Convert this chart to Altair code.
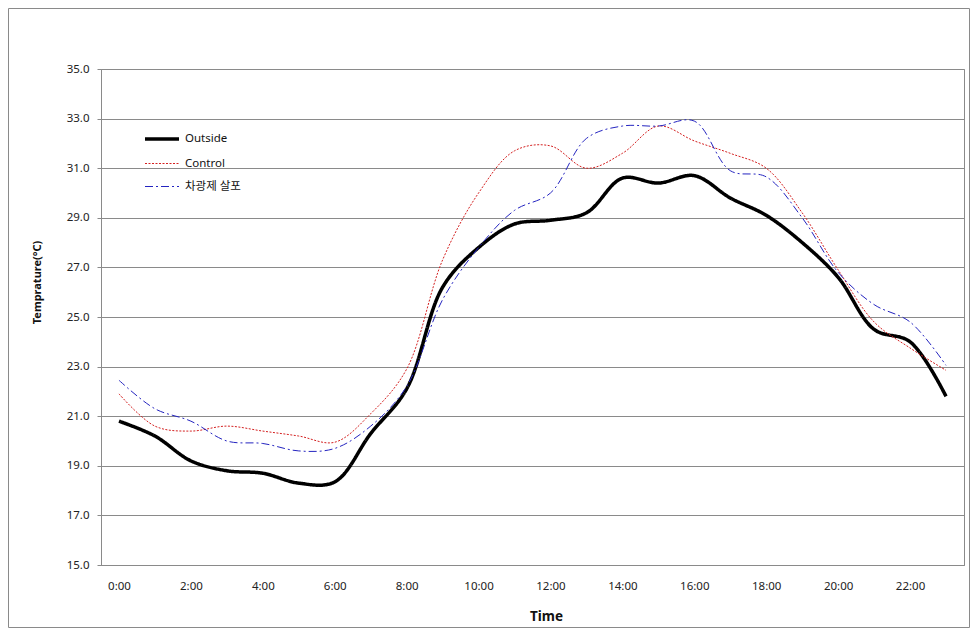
import altair as alt
import pandas as pd

hours = [f"{h}:00" for h in range(24)]
label_hours = [f"{h}:00" for h in range(0, 24, 2)]
series = ["Outside", "Control", "차광제 살포"]

outside = [20.8, 20.2, 19.2, 18.8, 18.7, 18.3, 18.35, 20.3, 22.1, 26.2, 27.8, 28.75,
           28.9, 29.2, 30.6, 30.4, 30.7, 29.8, 29.1, 28.0, 26.6, 24.5, 24.0, 21.8]
control = [21.9, 20.6, 20.4, 20.6, 20.4, 20.2, 19.95, 21.1, 22.9, 27.3, 30.0, 31.7,
           31.9, 31.0, 31.6, 32.7, 32.1, 31.6, 31.0, 29.2, 26.9, 24.8, 23.75, 22.85]
shade = [22.45, 21.3, 20.8, 20.0, 19.9, 19.6, 19.7, 20.6, 22.2, 25.7, 27.8, 29.3,
         30.0, 32.2, 32.7, 32.7, 32.9, 30.9, 30.65, 29.0, 26.8, 25.5, 24.8, 23.05]
y_ticks = [15, 17, 19, 21, 23, 25, 27, 29, 31, 33, 35]

rows = []
for name, vals in zip(series, [outside, control, shade]):
    for h, v in zip(hours, vals):
        rows.append({"time": h, "temp": v, "series": name})
df = pd.DataFrame(rows)

FONT = "Noto Sans, Noto Sans CJK KR, sans-serif"
GRID = "#8a8a8a"

leg = alt.Legend(
    orient="none", legendX=42, legendY=51, title=None,
    symbolType="stroke", symbolSize=1156, rowPadding=-9.5, labelOffset=4,
    labelFontSize=11.5, labelColor="#111", labelFont=FONT, padding=0,
)

lines = alt.Chart(df).mark_line(interpolate="catmull-rom").encode(
    x=alt.X("time:N", sort=hours, title="Time",
            axis=alt.Axis(values=label_hours, labelAngle=0, ticks=False, tickSize=0,
                          labelPadding=15, labelFontSize=11.5, labelColor="#222",
                          titleFontSize=13.5, titleFontWeight="bold", titleColor="#111",
                          titleX=445, titleY=51, titleBaseline="middle",
                          domainColor=GRID, grid=False)),
    y=alt.Y("temp:Q", title="Temprature(°C)",
            scale=alt.Scale(domain=[15, 35], nice=False, zero=False),
            axis=alt.Axis(values=y_ticks, format=".1f", tickSize=4, tickColor=GRID,
                          labelPadding=8, labelFontSize=11.5, labelColor="#222",
                          titleFontSize=11, titleFontWeight="bold", titleColor="#111",
                          titleX=-64, titleY=213, titleAngle=-90, titleBaseline="middle",
                          titleAlign="center",
                          domainColor=GRID, gridColor=GRID, gridWidth=1)),
    color=alt.Color("series:N", sort=series,
                    scale=alt.Scale(domain=series, range=["#000000", "#d42020", "#2424c0"]),
                    legend=leg),
    strokeDash=alt.StrokeDash("series:N", sort=series,
                              scale=alt.Scale(domain=series, range=[[1, 0], [2, 1.5], [8, 3, 2, 3]]),
                              legend=leg),
    strokeWidth=alt.StrokeWidth("series:N", sort=series,
                                scale=alt.Scale(type="ordinal", domain=series, range=[3.5, 1, 1]),
                                legend=leg),
)

frame = alt.Chart(pd.DataFrame({"a": [0]})).mark_rect(
    fill=None, stroke="#8a8a8a", strokeWidth=1
).encode(
    x=alt.value(-92.5), x2=alt.value(868.5), y=alt.value(-60.5), y2=alt.value(558.5)
)

chart = alt.layer(frame, lines).properties(
    width=863, height=496,
    padding={"left": 93, "top": 61, "right": 6, "bottom": 63},
    autosize=alt.AutoSizeParams(type="none"),
).configure(font=FONT).configure_view(stroke=GRID, strokeWidth=1)

chart.save("out.html", embed_options={"renderer": "svg", "actions": False})
